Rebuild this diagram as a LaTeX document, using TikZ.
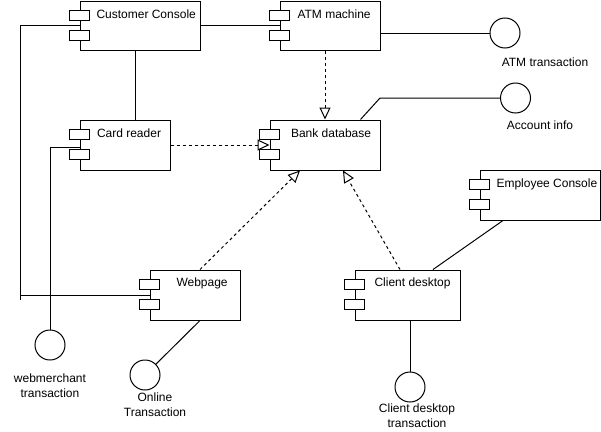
\documentclass[tikz,border=0pt]{standalone}
\usepackage{fontspec}
\setmainfont{Liberation Sans}
\usetikzlibrary{arrows.meta}
\begin{document}
\begin{tikzpicture}[x=1pt,y=-1pt,line width=1pt,
  comp/.style={draw,rectangle,inner sep=0pt},
  lbl/.style={anchor=west,inner sep=0pt,font=\fontsize{12}{15}\selectfont},
  clbl/.style={align=center,inner sep=0pt,font=\fontsize{12}{15}\selectfont},
  iface/.style={draw,circle,minimum size=30pt,inner sep=0pt},
  dep/.style={dash pattern=on 3pt off 3pt,-{Triangle[open,length=12pt,width=11pt]}},
  conn/.style={draw}]
\useasboundingbox (0,0) rectangle (601,431);
% components
\node[comp,minimum width=120pt,minimum height=49pt] (cc) at (140,25.5) {};
\node[comp,minimum width=100pt,minimum height=49pt] (atm) at (330,25.5) {};
\node[comp,minimum width=90pt,minimum height=50pt] (card) at (125,145) {};
\node[comp,minimum width=110pt,minimum height=50pt] (bank) at (325,145) {};
\node[comp,minimum width=120pt,minimum height=50pt] (emp) at (540,195) {};
\node[comp,minimum width=90pt,minimum height=50pt] (web) at (195,295) {};
\node[comp,minimum width=105pt,minimum height=50pt] (client) at (407.5,295) {};
\foreach \n in {cc,atm,card,bank,emp,web,client}{
  \draw[fill=white] ([xshift=-10pt,yshift=-10pt]\n.north west) rectangle ++(20,10);
  \draw[fill=white] ([xshift=-10pt,yshift=-30pt]\n.north west) rectangle ++(20,10);
}
% component labels
\node[lbl] (tcc) at (96,14) {Customer Console};
\node[lbl] (tatm) at (297,14) {ATM machine};
\node[lbl] (tcard) at (96.5,133) {Card reader};
\node[lbl] (tbank) at (290.5,133) {Bank database};
\node[lbl] (temp) at (496,184) {Employee Console};
\node[lbl] (tweb) at (176,283.5) {Webpage};
\node[lbl] (tclient) at (374,283.5) {Client desktop};
% interfaces
\node[iface] (atmt) at (505,33) {};
\node[clbl] (latmt) at (545,62.5) {ATM transaction};
\node[iface] (acct) at (515.5,98) {};
\node[clbl] (lacct) at (540,125) {Account info};
\node[iface] (webm) at (50,345) {};
\node[clbl] (lwebm) at (50,385.5) {webmerchant\\transaction};
\node[iface] (online) at (145,375) {};
\node[clbl] (lonline) at (155,405) {Online\\Transaction};
\node[iface] (clientt) at (410,387) {};
\node[clbl] (lclientt) at (417,415.5) {Client desktop\\transaction};
\coordinate (lc) at (20,300);
% connectors
\draw (cc.east) -- (atm.west);
\draw (atm.east |- atmt) -- (atmt.west);
\draw ([xshift=10pt]card.north |- cc.south) -- ([xshift=10pt]card.north);
\draw (cc.west) -| (lc);
\draw (web.west) -- (web.west -| lc);
\draw ([yshift=-2pt]card.west) -| (webm.north);
\draw (acct.west) -- ++(-120,0) -- ([xshift=-20pt]bank.north east);
\draw ([xshift=5pt]web.south) -- (online);
\draw ([xshift=-37pt]emp.south) -- ([xshift=25.5pt]client.north);
\draw (clientt.north |- client.south) -- (clientt.north);
\draw[dep] (card.east) -- (bank.west);
\draw[dep] (bank.north |- atm.south) -- (bank.north);
\draw[dep] ([xshift=5pt]web.north) -- ([xshift=-25pt]bank.south);
\draw[dep] ([xshift=-7.5pt]client.north) -- ([xshift=18pt]bank.south);
\end{tikzpicture}
\end{document}
